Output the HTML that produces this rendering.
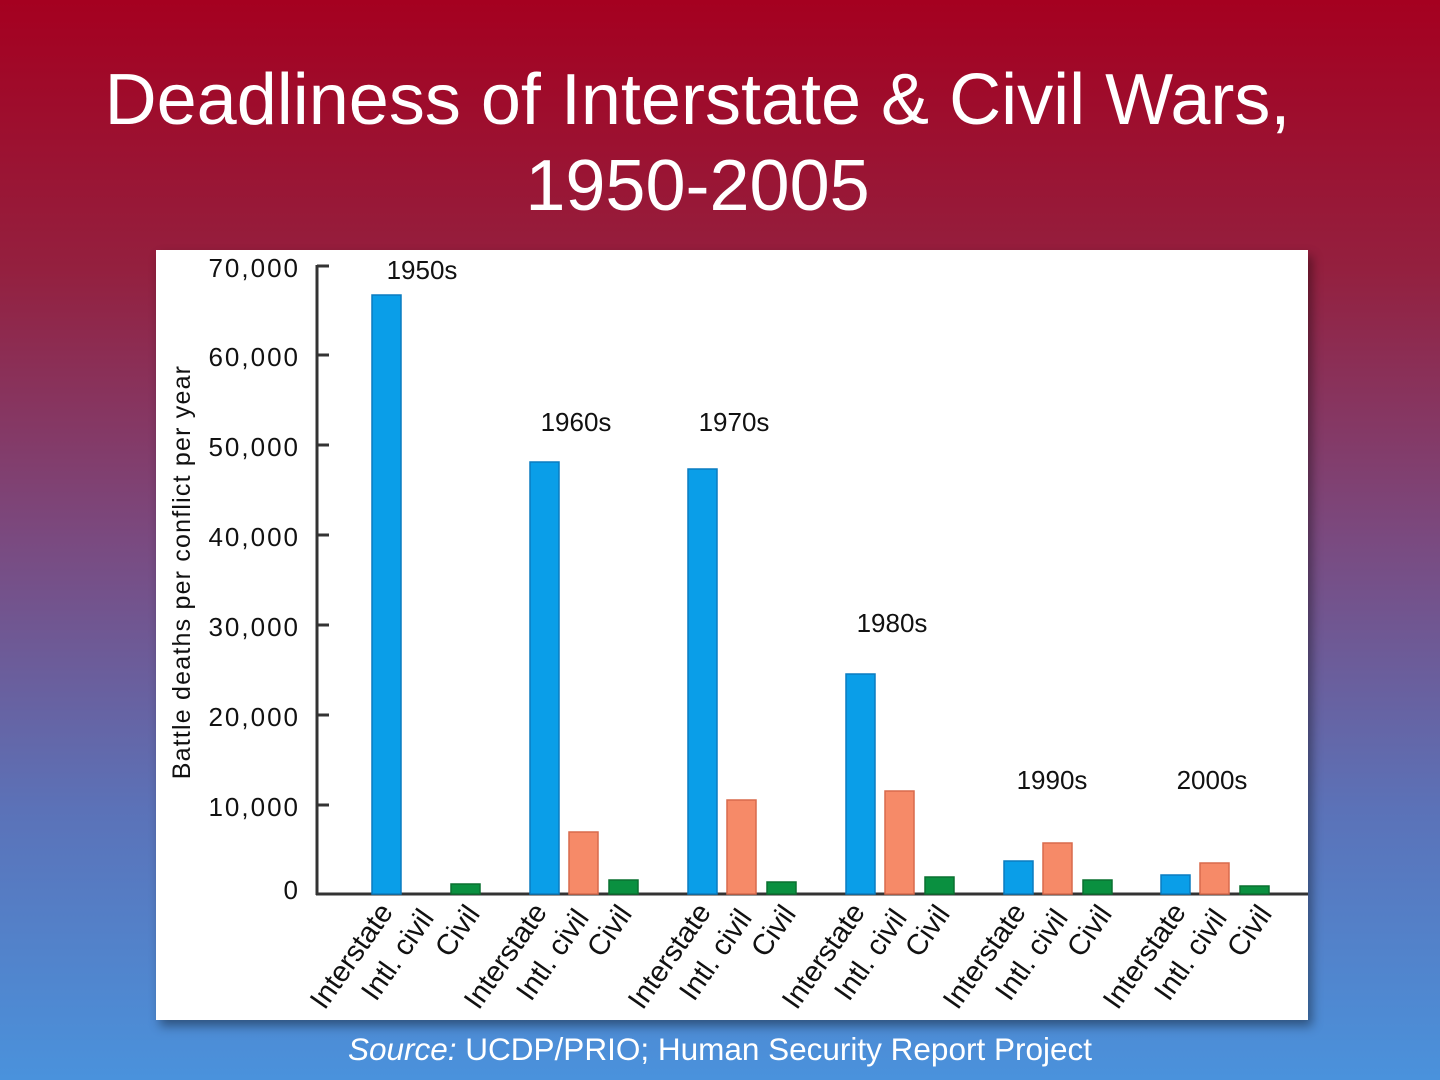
<!DOCTYPE html>
<html><head><style>
html,body{margin:0;padding:0;}
body{width:1440px;height:1080px;overflow:hidden;background:linear-gradient(to bottom,#a50020 0%,#94203f 25%,#7a4a80 50%,#5b72b8 75%,#4a92dc 100%);font-family:"Liberation Sans",sans-serif;position:relative;}
.t{position:absolute;left:0;width:1395px;text-align:center;color:#fff;font-size:72px;line-height:86px;top:57px;}
.src{position:absolute;left:0;width:1440px;text-align:center;color:#fff;font-size:31.5px;top:1031px;}
.panel{position:absolute;left:156px;top:250px;width:1152px;height:770px;background:#fff;box-shadow:4px 6px 10px rgba(0,0,0,0.4);}
</style></head><body>
<div class="t">Deadliness of Interstate &amp; Civil Wars,<br>1950-2005</div>
<div class="panel"></div>
<svg style="position:absolute;left:0;top:0" width="1440" height="1080" font-family="Liberation Sans, sans-serif">
<g stroke="#333" stroke-width="3" fill="none">
<line x1="317" y1="265" x2="317" y2="895"/>
<line x1="316" y1="894" x2="1308" y2="894"/>
<line x1="317" y1="266" x2="329" y2="266"/>
<line x1="317" y1="355" x2="329" y2="355"/>
<line x1="317" y1="445" x2="329" y2="445"/>
<line x1="317" y1="535" x2="329" y2="535"/>
<line x1="317" y1="625" x2="329" y2="625"/>
<line x1="317" y1="715" x2="329" y2="715"/>
<line x1="317" y1="805" x2="329" y2="805"/>
</g>
<g font-size="26" fill="#111" text-anchor="end" letter-spacing="2">
<text x="300" y="277">70,000</text>
<text x="300" y="366">60,000</text>
<text x="300" y="456">50,000</text>
<text x="300" y="546">40,000</text>
<text x="300" y="636">30,000</text>
<text x="300" y="726">20,000</text>
<text x="300" y="816">10,000</text>
<text x="300" y="899">0</text>
</g>
<text transform="translate(190,572) rotate(-90)" text-anchor="middle" font-size="25" fill="#111" letter-spacing="1.2">Battle deaths per conflict per year</text>
<g stroke-width="1.5">
<g fill="#0a9ee8" stroke="#0a7cc0">
<rect x="372" y="295" width="29" height="599"/>
<rect x="530" y="462" width="29" height="432"/>
<rect x="688" y="469" width="29" height="425"/>
<rect x="846" y="674" width="29" height="220"/>
<rect x="1004" y="861" width="29" height="33"/>
<rect x="1161" y="875" width="29" height="19"/>
</g>
<g fill="#f68a68" stroke="#d86a4c">
<rect x="569" y="832" width="29" height="62"/>
<rect x="727" y="800" width="29" height="94"/>
<rect x="885" y="791" width="29" height="103"/>
<rect x="1043" y="843" width="29" height="51"/>
<rect x="1200" y="863" width="29" height="31"/>
</g>
<g fill="#0a9040" stroke="#0a7030">
<rect x="451" y="884" width="29" height="10"/>
<rect x="609" y="880" width="29" height="14"/>
<rect x="767" y="882" width="29" height="12"/>
<rect x="925" y="877" width="29" height="17"/>
<rect x="1083" y="880" width="29" height="14"/>
<rect x="1240" y="886" width="29" height="8"/>
</g>
</g>
<g font-size="26" fill="#111" text-anchor="middle">
<text x="422" y="279">1950s</text>
<text x="576" y="431">1960s</text>
<text x="734" y="431">1970s</text>
<text x="892" y="632">1980s</text>
<text x="1052" y="789">1990s</text>
<text x="1212" y="789">2000s</text>
</g>
<g font-size="29" fill="#111" text-anchor="end">
<text transform="translate(394,912) rotate(-55)">Interstate</text>
<text transform="translate(435,918) rotate(-55)">Intl. civil</text>
<text transform="translate(481,914) rotate(-55)">Civil</text>
<text transform="translate(548,912) rotate(-55)">Interstate</text>
<text transform="translate(590,918) rotate(-55)">Intl. civil</text>
<text transform="translate(633,914) rotate(-55)">Civil</text>
<text transform="translate(712,912) rotate(-55)">Interstate</text>
<text transform="translate(753,918) rotate(-55)">Intl. civil</text>
<text transform="translate(797,914) rotate(-55)">Civil</text>
<text transform="translate(866,912) rotate(-55)">Interstate</text>
<text transform="translate(908,918) rotate(-55)">Intl. civil</text>
<text transform="translate(951,914) rotate(-55)">Civil</text>
<text transform="translate(1027,912) rotate(-55)">Interstate</text>
<text transform="translate(1069,918) rotate(-55)">Intl. civil</text>
<text transform="translate(1113,914) rotate(-55)">Civil</text>
<text transform="translate(1187,912) rotate(-55)">Interstate</text>
<text transform="translate(1228,918) rotate(-55)">Intl. civil</text>
<text transform="translate(1273,914) rotate(-55)">Civil</text>
</g>
</svg>
<div class="src"><i>Source:</i> UCDP/PRIO; Human Security Report Project</div>
</body></html>
